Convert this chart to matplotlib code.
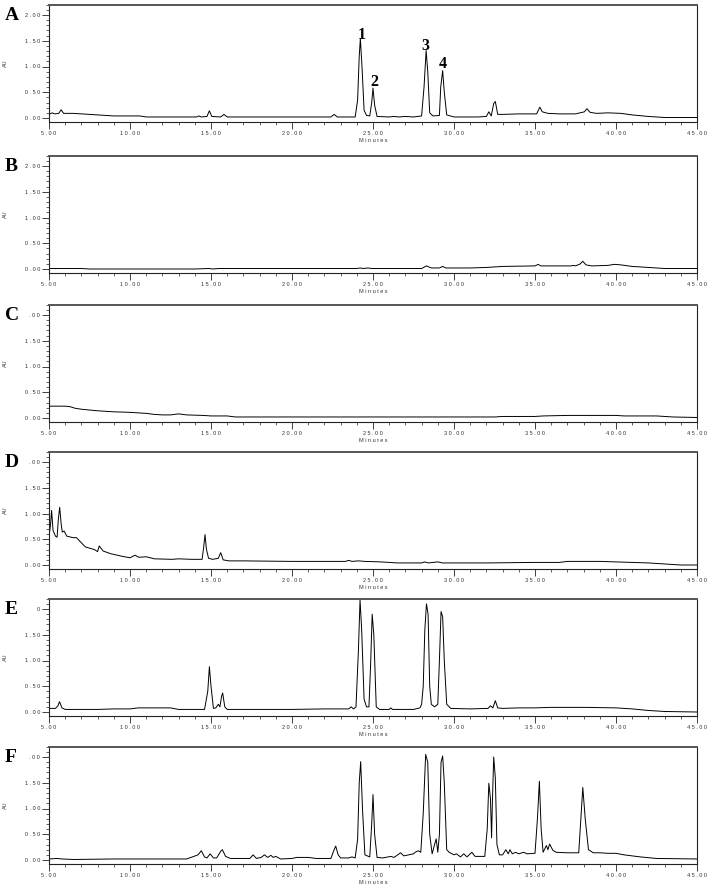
import matplotlib
matplotlib.use("Agg")
import matplotlib.pyplot as plt
from matplotlib.ticker import MultipleLocator, FixedLocator

# chromatogram traces (time in minutes, absorbance in AU)
a_t = [5.0, 5.2, 5.35, 5.6, 5.75, 5.9, 6.5, 7.0, 8.0, 9.0, 10.0, 10.6, 11.0, 12.0, 13.0,
       14.1, 14.25, 14.4, 14.75, 14.9, 15.05, 15.6, 15.8, 16.0, 18.0, 20.0, 22.4, 22.6, 22.8,
       23.9, 24.05, 24.15, 24.22, 24.32, 24.45, 24.6, 24.8, 24.92, 25.0, 25.1, 25.25, 26.0,
       26.3, 26.6, 27.0, 27.5, 28.0, 28.15, 28.28, 28.38, 28.5, 28.7, 29.1, 29.18, 29.3, 29.4,
       29.55, 30.0, 31.5, 32.0, 32.15, 32.3, 32.45, 32.55, 32.7, 33.0, 34.0, 35.1, 35.3, 35.45,
       35.8, 36.5, 37.5, 38.05, 38.2, 38.4, 38.8, 39.5, 40.3, 41.0, 42.0, 43.0, 45.0]
a_v = [0.07, 0.10, 0.08, 0.09, 0.16, 0.09, 0.09, 0.08, 0.06, 0.04, 0.04, 0.04, 0.02, 0.02, 0.02,
       0.02, 0.04, 0.02, 0.03, 0.14, 0.03, 0.02, 0.07, 0.02, 0.02, 0.02, 0.02, 0.07, 0.02,
       0.02, 0.35, 1.20, 1.54, 1.00, 0.15, 0.05, 0.04, 0.30, 0.58, 0.25, 0.03, 0.02,
       0.03, 0.02, 0.03, 0.02, 0.04, 0.60, 1.31, 0.90, 0.10, 0.04, 0.05, 0.60, 0.92, 0.50,
       0.06, 0.02, 0.02, 0.03, 0.12, 0.04, 0.28, 0.32, 0.07, 0.07, 0.08, 0.08, 0.21, 0.12,
       0.09, 0.08, 0.08, 0.12, 0.18, 0.11, 0.09, 0.10, 0.09, 0.06, 0.03, 0.01, 0.01]

b_t = [5.0, 7.0, 7.5, 14.0, 14.9, 15.1, 15.5, 20.0, 24.0, 24.2, 24.4, 24.7, 24.9, 28.0, 28.3,
       28.6, 29.1, 29.3, 29.5, 31.0, 32.0, 32.5, 33.0, 35.0, 35.2, 35.35, 37.2, 37.4, 37.5,
       37.8, 37.95, 38.15, 38.5, 39.5, 39.9, 40.3, 41.0, 42.0, 43.0, 45.0]
b_v = [0.01, 0.01, 0.0, 0.0, 0.01, 0.0, 0.01, 0.01, 0.01, 0.02, 0.01, 0.02, 0.01, 0.01, 0.06,
       0.02, 0.02, 0.05, 0.02, 0.02, 0.03, 0.04, 0.05, 0.06, 0.09, 0.06, 0.06, 0.07, 0.06,
       0.10, 0.15, 0.08, 0.06, 0.07, 0.09, 0.08, 0.05, 0.03, 0.01, 0.01]

c_t = [5.0, 6.0, 6.3, 6.6, 7.0, 8.0, 9.0, 10.0, 11.0, 11.5, 12.0, 12.5, 13.0, 13.5, 14.5,
       15.0, 16.0, 16.5, 20.0, 25.0, 30.0, 32.5, 33.0, 35.0, 35.5, 37.0, 40.0, 40.5, 42.5,
       43.0, 43.5, 45.0]
c_v = [0.23, 0.23, 0.22, 0.19, 0.17, 0.14, 0.12, 0.11, 0.09, 0.07, 0.06, 0.06, 0.08, 0.06, 0.05,
       0.04, 0.04, 0.02, 0.02, 0.02, 0.02, 0.02, 0.03, 0.03, 0.04, 0.05, 0.05, 0.04, 0.04,
       0.03, 0.02, 0.01]

d_t = [5.0, 5.1, 5.16, 5.25, 5.4, 5.5, 5.58, 5.66, 5.75, 5.82, 5.93, 6.1, 6.5, 6.7, 7.0,
       7.25, 7.8, 8.0, 8.1, 8.35, 8.8, 9.5, 10.0, 10.3, 10.55, 11.0, 11.5, 12.6, 13.0, 13.8,
       14.45, 14.55, 14.63, 14.72, 14.85, 15.1, 15.45, 15.6, 15.75, 16.1, 17.0, 20.0, 23.3,
       23.5, 23.7, 24.1, 24.5, 25.5, 26.5, 28.0, 28.2, 28.4, 29.0, 29.3, 32.0, 35.0, 36.5,
       37.0, 39.0, 40.0, 41.0, 42.0, 43.0, 44.0, 45.0]
d_v = [0.55, 0.80, 1.06, 0.67, 0.56, 0.54, 0.90, 1.12, 0.80, 0.64, 0.66, 0.56, 0.53, 0.53, 0.43,
       0.35, 0.30, 0.26, 0.37, 0.27, 0.22, 0.17, 0.14, 0.19, 0.15, 0.16, 0.12, 0.11, 0.12, 0.11,
       0.11, 0.35, 0.59, 0.30, 0.13, 0.11, 0.13, 0.24, 0.10, 0.08, 0.08, 0.07, 0.07,
       0.09, 0.07, 0.08, 0.07, 0.06, 0.04, 0.04, 0.06, 0.04, 0.06, 0.04, 0.04, 0.05, 0.05,
       0.07, 0.07, 0.06, 0.05, 0.04, 0.02, 0.0, 0.0]

e_t = [5.0, 5.4, 5.55, 5.65, 5.8, 6.0, 8.0, 9.0, 10.0, 10.5, 12.5, 13.0, 14.6, 14.8, 14.9,
       15.0, 15.15, 15.3, 15.45, 15.55, 15.65, 15.72, 15.85, 16.0, 18.0, 20.0, 22.0, 23.5,
       23.65, 23.8, 23.95, 24.1, 24.2, 24.3, 24.45, 24.6, 24.75, 24.85, 24.95, 25.05, 25.2,
       25.4, 26.0, 26.1, 26.2, 27.5, 27.9, 28.0, 28.1, 28.2, 28.3, 28.4, 28.5, 28.6, 28.8,
       29.0, 29.1, 29.2, 29.3, 29.4, 29.55, 29.8, 31.0, 32.1, 32.25, 32.4, 32.55, 32.7, 33.0,
       34.0, 35.0, 36.0, 38.0, 40.0, 41.0, 42.0, 43.0, 45.0]
e_v = [0.07, 0.07, 0.12, 0.20, 0.08, 0.05, 0.05, 0.06, 0.06, 0.08, 0.08, 0.05, 0.05, 0.40, 0.88,
       0.50, 0.07, 0.08, 0.15, 0.10, 0.30, 0.37, 0.10, 0.05, 0.05, 0.05, 0.06, 0.06,
       0.10, 0.06, 0.10, 1.20, 2.18, 1.60, 0.25, 0.10, 0.10, 0.90, 1.90, 1.50, 0.10,
       0.05, 0.05, 0.08, 0.05, 0.05, 0.08, 0.15, 0.50, 1.60, 2.10, 1.90, 0.50, 0.15, 0.10,
       0.15, 1.00, 1.95, 1.85, 1.00, 0.15, 0.07, 0.06, 0.07, 0.12, 0.08, 0.22, 0.08, 0.07,
       0.08, 0.08, 0.09, 0.09, 0.08, 0.06, 0.03, 0.01, 0.0]

f_t = [5.0, 5.5, 5.8, 6.5, 9.0, 13.5, 14.2, 14.4, 14.6, 14.75, 14.95, 15.15, 15.35, 15.6,
       15.7, 15.9, 16.2, 17.4, 17.6, 17.8, 18.1, 18.3, 18.5, 18.7, 18.85, 19.0, 19.3, 20.0,
       20.3, 21.0, 21.5, 22.4, 22.6, 22.7, 22.85, 23.0, 23.5, 23.7, 23.9, 24.05, 24.15, 24.24,
       24.35, 24.5, 24.8, 24.92, 25.0, 25.1, 25.25, 25.6, 26.1, 26.3, 26.7, 26.9, 27.5, 27.6,
       27.8, 27.95, 28.1, 28.25, 28.38, 28.5, 28.65, 28.8, 28.9, 29.0, 29.1, 29.2, 29.3, 29.4,
       29.55, 29.7, 30.0, 30.15, 30.4, 30.6, 30.8, 31.1, 31.3, 31.9, 32.05, 32.15, 32.25,
       32.32, 32.36, 32.45, 32.55, 32.65, 32.8, 33.0, 33.2, 33.35, 33.45, 33.6, 33.8, 34.0,
       34.3, 34.5, 35.0, 35.15, 35.27, 35.38, 35.5, 35.7, 35.8, 35.9, 36.1, 36.3, 37.0, 37.7,
       37.85, 37.95, 38.1, 38.3, 38.6, 39.0, 39.5, 40.0, 40.5, 41.5, 42.5, 45.0]
f_v = [0.02, 0.03, 0.02, 0.01, 0.02, 0.02, 0.10, 0.18, 0.06, 0.04, 0.12, 0.04, 0.04, 0.17,
       0.20, 0.07, 0.03, 0.03, 0.10, 0.03, 0.05, 0.10, 0.05, 0.09, 0.05, 0.07, 0.02, 0.03,
       0.05, 0.05, 0.03, 0.03, 0.20, 0.27, 0.10, 0.04, 0.04, 0.06, 0.04, 0.40, 1.50, 1.91,
       1.00, 0.10, 0.06, 0.70, 1.27, 0.50, 0.05, 0.04, 0.07, 0.05, 0.14, 0.08, 0.12, 0.15,
       0.18, 0.15, 0.90, 2.05, 1.90, 0.50, 0.12, 0.30, 0.41, 0.15, 0.50, 1.90, 2.02, 1.50,
       0.20, 0.15, 0.10, 0.12, 0.06, 0.12, 0.06, 0.15, 0.07, 0.07, 0.60, 1.49, 1.20,
       0.43, 1.00, 2.00, 1.60, 0.30, 0.10, 0.10, 0.20, 0.12, 0.20, 0.12, 0.15, 0.12,
       0.15, 0.12, 0.13, 0.80, 1.53, 0.60, 0.15, 0.28, 0.20, 0.31, 0.19, 0.15, 0.14, 0.14,
       0.90, 1.41, 0.80, 0.20, 0.14, 0.14, 0.13, 0.13, 0.10, 0.06, 0.03, 0.02]

panel_letters = ["A", "B", "C", "D", "E", "F"]
traces = [(a_t, a_v), (b_t, b_v), (c_t, c_v), (d_t, d_v), (e_t, e_v), (f_t, f_v)]

x_ticks = [5, 10, 15, 20, 25, 30, 35, 40, 45]
x_ticklabels = ["5.00", "10.00", "15.00", "20.00", "25.00", "30.00", "35.00", "40.00", "45.00"]
y_ticks = [0.0, 0.5, 1.0, 1.5, 2.0]
# the top label is cut off in the lower panels of the original
top_labels = ["2.00", "2.00", ".00", ".00", "0", ".00"]

# peak numbers in panel A
peak_names = ["1", "2", "3", "4"]
peak_pos = [(24.3, 1.61), (25.1, 0.70), (28.25, 1.40), (29.3, 1.05)]


def spaced(s):
    return " ".join(s)


W, H = 712, 885
zero_px = [118, 269, 418, 565, 712, 860]   # pixel row of 0.00 in each panel
unit = 51.5                                # pixels per AU
ylo, yhi = -0.08, 2.2

fig = plt.figure(figsize=(W / 100, H / 100), dpi=100)
tick_font = dict(family="Liberation Sans", size=4, color="#333333")

for i, (t, v) in enumerate(traces):
    bot = zero_px[i] - ylo * unit
    top = zero_px[i] - yhi * unit
    ax = fig.add_axes([49 / W, 1 - bot / H, 648 / W, (bot - top) / H])
    ax.plot(t, v, color="black", lw=0.7)
    ax.set_xlim(5, 45)
    ax.set_ylim(ylo, yhi)

    ax.xaxis.set_major_locator(FixedLocator(x_ticks))
    ax.xaxis.set_minor_locator(MultipleLocator(1))
    ax.yaxis.set_major_locator(FixedLocator(y_ticks))
    ax.yaxis.set_minor_locator(MultipleLocator(0.1))
    ax.set_xticklabels([spaced(s) for s in x_ticklabels], **tick_font)
    ylabs = ["0.00", "0.50", "1.00", "1.50", top_labels[i]]
    ax.set_yticklabels([spaced(s) for s in ylabs], **tick_font)
    ax.tick_params(which="major", direction="out", length=5, width=0.6, pad=1.5, color="#222222")
    ax.tick_params(which="minor", direction="out", length=2.5, width=0.5, color="#222222")

    for side in ["left", "bottom", "right"]:
        ax.spines[side].set_linewidth(0.8)
        ax.spines[side].set_color("#222222")
    ax.spines["top"].set_linewidth(1.4)
    ax.spines["top"].set_color("#555555")

    ax.set_xlabel(spaced("Minutes"), fontsize=4, family="Liberation Sans", color="#333333", labelpad=1)
    ax.set_ylabel("AU", fontsize=4, family="Liberation Sans", color="#333333")
    ax.yaxis.set_label_coords(-41 / 648, 0.5)

    fig.text(5 / W, 1 - (top + 11) / H, panel_letters[i], family="Liberation Serif",
             fontweight="bold", fontsize=14, ha="left", va="center")

    if i == 0:
        for name, (px, py) in zip(peak_names, peak_pos):
            ax.text(px, py, name, family="Liberation Serif", fontweight="bold",
                    fontsize=11.5, ha="center", va="center")

fig.savefig("out.png", dpi=100)
